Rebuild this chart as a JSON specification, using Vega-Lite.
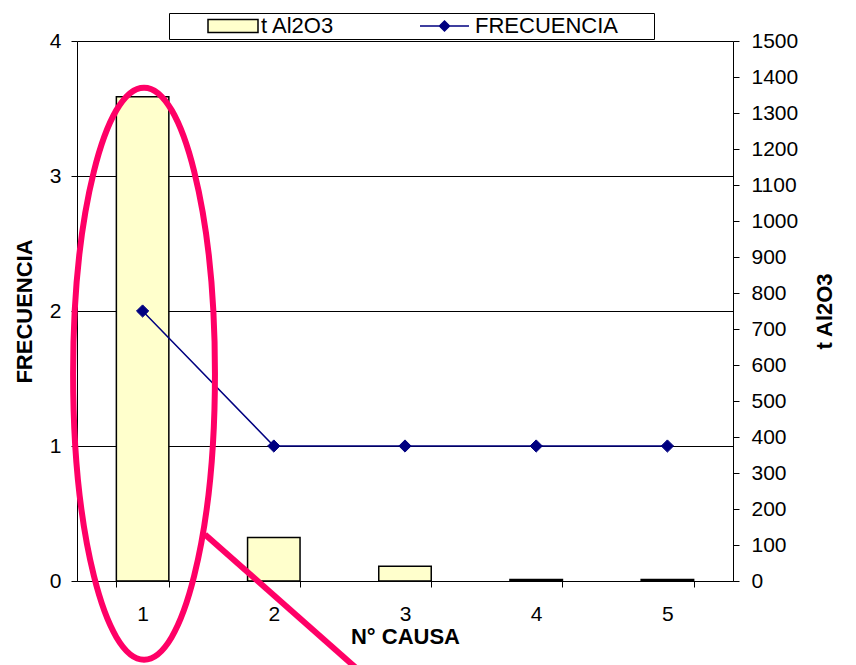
{
  "$schema": "https://vega.github.io/schema/vega-lite/v6.json",
  "width": 656,
  "height": 540,
  "autosize": "none",
  "padding": {"left": 77, "top": 41, "right": 123, "bottom": 84},
  "background": "white",
  "config": {
    "view": {"stroke": null},
    "font": "Liberation Sans",
    "axis": {
      "domainColor": "black", "tickColor": "black", "labelColor": "black", "titleColor": "black",
      "labelFont": "Liberation Sans", "titleFont": "Liberation Sans",
      "labelFontSize": 21, "titleFontSize": 22, "titleFontWeight": "bold",
      "tickSize": 6, "domainWidth": 1, "tickWidth": 1,
      "gridColor": "black", "gridWidth": 1, "gridOpacity": 1
    }
  },
  "datasets": {
    "main": [
      {"causa": "1", "t": 1345, "frecuencia": 2},
      {"causa": "2", "t": 121, "frecuencia": 1},
      {"causa": "3", "t": 41, "frecuencia": 1},
      {"causa": "4", "t": 4, "frecuencia": 1},
      {"causa": "5", "t": 4, "frecuencia": 1}
    ],
    "ellipse": [{"causa": "1", "pos": 576}],
    "arrow": [{"causa": "2", "pos": 129}]
  },
  "encoding": {
    "x": {
      "field": "causa", "type": "nominal",
      "scale": {"domain": ["1", "2", "3", "4", "5"], "paddingInner": 0.6, "paddingOuter": 0.3},
      "axis": {"title": "N° CAUSA", "labelAngle": 0, "tickBand": "extent", "labelPadding": 16, "titlePadding": 2, "grid": false}
    }
  },
  "layer": [
    {
      "data": {"name": "main"},
      "mark": {"type": "bar", "fill": "#FFFFCC", "stroke": "black", "strokeWidth": 1.5},
      "encoding": {
        "y": {
          "field": "t", "type": "quantitative",
          "scale": {"domain": [0, 1500]},
          "axis": {"title": "t Al2O3", "orient": "right", "format": "d", "values": [0,100,200,300,400,500,600,700,800,900,1000,1100,1200,1300,1400,1500], "grid": false, "labelPadding": 12, "titlePadding": 17, "titleAngle": 270, "titleBaseline": "top"}
        }
      }
    },
    {
      "data": {"name": "main"},
      "mark": {"type": "line", "strokeWidth": 1.5},
      "encoding": {
        "y": {
          "field": "frecuencia", "type": "quantitative",
          "scale": {"domain": [0, 4]},
          "axis": {"title": "FRECUENCIA", "orient": "left", "values": [0, 1, 2, 3, 4], "grid": true, "labelPadding": 10, "titlePadding": 13}
        },
        "stroke": {
          "datum": "FRECUENCIA", "type": "nominal",
          "scale": {"domain": ["t  Al2O3", "FRECUENCIA"], "range": ["black", "#000080"]},
          "legend": {
            "orient": "none", "legendX": 92, "legendY": -28, "direction": "horizontal",
            "title": " ", "titleOrient": "right", "titlePadding": 34, "titleFontSize": 1,
            "padding": 2, "strokeColor": "black", "fillColor": "white",
            "symbolSize": 400, "symbolOffset": 0, "symbolStrokeWidth": 1.5,
            "labelOffset": 68, "columnPadding": 44,
            "labelFontSize": 22, "labelFont": "Liberation Sans", "labelColor": "black", "labelLimit": 400,
            "encode": {
              "symbols": {
                "update": {
                  "shape": {"signal": "datum.value === 'FRECUENCIA' ? 'M2.4,0L7.3,0M4.85,-0.5L5.35,0L4.85,0.5L4.35,0Z' : 'M2.6,-0.65L7.6,-0.65L7.6,0.65L2.6,0.65Z'"},
                  "strokeWidth": {"value": 1.5},
                  "opacity": {"value": 1}
                }
              }
            }
          }
        }
      }
    },
    {
      "data": {"name": "main"},
      "mark": {"type": "point", "shape": "diamond", "size": 150, "filled": true, "opacity": 1, "strokeWidth": 1},
      "encoding": {
        "y": {"field": "frecuencia", "type": "quantitative", "scale": {"domain": [0, 4]}, "axis": null},
        "fill": {
          "datum": "FRECUENCIA", "type": "nominal",
          "scale": {"domain": ["t  Al2O3", "FRECUENCIA"], "range": ["#FFFFCC", "#000080"]},
          "legend": {
            "orient": "none", "legendX": 92, "legendY": -28, "direction": "horizontal",
            "title": " ", "titleOrient": "right", "titlePadding": 34, "titleFontSize": 1,
            "padding": 2, "strokeColor": "black", "fillColor": "white",
            "symbolSize": 400, "symbolOffset": 0, "symbolStrokeWidth": 1.5,
            "labelOffset": 68, "columnPadding": 44,
            "labelFontSize": 22, "labelFont": "Liberation Sans", "labelColor": "black", "labelLimit": 400,
            "encode": {
              "symbols": {
                "update": {
                  "shape": {"signal": "datum.value === 'FRECUENCIA' ? 'M2.4,0L7.3,0M4.85,-0.5L5.35,0L4.85,0.5L4.35,0Z' : 'M2.6,-0.65L7.6,-0.65L7.6,0.65L2.6,0.65Z'"},
                  "strokeWidth": {"value": 1.5},
                  "opacity": {"value": 1}
                }
              }
            }
          }
        },
        "stroke": {"datum": "FRECUENCIA", "type": "nominal"}
      }
    },
    {
      "data": {"name": "ellipse"},
      "mark": {"type": "point", "shape": "M-0.243,0C-0.243,-0.552 -0.132,-1 0.005,-1C0.142,-1 0.253,-0.552 0.253,0C0.253,0.552 0.142,1 0.005,1C-0.132,1 -0.243,0.552 -0.243,0Z", "size": 327184, "filled": false, "stroke": "#FF0066", "strokeWidth": 6, "opacity": 1, "clip": false},
      "encoding": {
        "y": {"field": "pos", "type": "quantitative", "scale": {"domain": [0, 1500]}, "axis": null}
      }
    },
    {
      "data": {"name": "arrow"},
      "mark": {"type": "point", "shape": "M-0.344,0L0.477,0.725", "size": 160000, "filled": false, "stroke": "#FF0066", "strokeWidth": 6, "opacity": 1, "clip": false},
      "encoding": {
        "y": {"field": "pos", "type": "quantitative", "scale": {"domain": [0, 1500]}, "axis": null}
      }
    }
  ],
  "resolve": {"scale": {"y": "independent"}}
}
